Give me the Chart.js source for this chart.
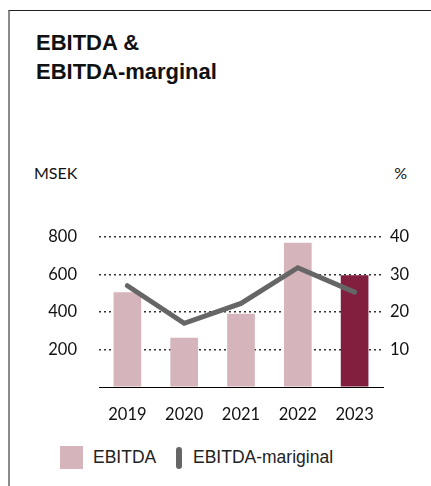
<!DOCTYPE html>
<html>
<head>
<meta charset="utf-8">
<script src="https://cdn.jsdelivr.net/npm/chart.js@4/dist/chart.umd.min.js"></script>
<style>
  html, body { margin: 0; padding: 0; background: #fff; }
  body { width: 431px; height: 486px; position: relative; overflow: hidden; }
  .frame { position: absolute; left: 8px; top: 10px; right: 0; bottom: 0;
    border-left: 2px solid #8a8a8a; border-top: 1px solid #222; }
  .title { position: absolute; left: 36px; top: 28px; font: bold 22px/29px "Liberation Sans", Arial, sans-serif; color: #111; }
  .unit { position: absolute; top: 163px; font: 16px/20px Lato, sans-serif; color: #111; }
  #wrap { position: absolute; left: 0; top: 200px; width: 431px; height: 235px; }
  .legend { position: absolute; top: 446px; left: 0; font: 17.5px/23px "Liberation Sans", Arial, sans-serif; color: #222; }
  .legend i { position: absolute; display: block; }
  .legend span { position: absolute; top: 0; white-space: nowrap; }
</style>
</head>
<body>
<div class="frame"></div>
<div class="title">EBITDA &amp;<br>EBITDA-marginal</div>
<div class="unit" style="left:34px">MSEK</div>
<div class="unit" style="right:24px">%</div>
<div id="wrap"><canvas id="c"></canvas></div>
<div class="legend">
  <i style="left:60px;top:0;width:23px;height:23px;background:#d5b5bb"></i>
  <span style="left:93px">EBITDA</span>
  <i style="left:176px;top:1px;width:6px;height:22px;border-radius:3px;background:#666"></i>
  <span style="left:193px">EBITDA-mariginal</span>
</div>
<script>
// EBITDA (MSEK, bars) and EBITDA margin (%, line)
const years = ["2019", "2020", "2021", "2022", "2023"];
const ebitda = [503, 261, 389, 768, 594];
const margin = [27.0, 17.0, 22.3, 31.8, 25.3];
const leftTicks = [200, 400, 600, 800];
const rightTicks = [10, 20, 30, 40];

const PINK = "#d5b5bb";
const WINE = "#821f3f";
const TICK_FONT = { family: "Lato, sans-serif", size: 16.5 };

new Chart(document.getElementById("c"), {
  data: {
    labels: years,
    datasets: [
      {
        type: "line", label: "EBITDA-mariginal", data: margin, yAxisID: "y1", order: 0,
        borderColor: "#666", borderWidth: 5, borderCapStyle: "round", borderJoinStyle: "miter",
        pointRadius: 0, tension: 0,
      },
      {
        type: "bar", label: "EBITDA", data: ebitda, yAxisID: "y", order: 1,
        backgroundColor: years.map((_, i) => (i === years.length - 1 ? WINE : PINK)),
        barThickness: 27,
      },
    ],
  },
  options: {
    responsive: true,
    maintainAspectRatio: false,
    animation: false,
    layout: { padding: { top: 37, left: 0, right: 0, bottom: 0 } },
    plugins: { legend: { display: false }, tooltip: { enabled: false } },
    scales: {
      x: {
        grid: { display: false },
        border: { display: true, color: "#000", width: 1 },
        ticks: { color: "#111", font: TICK_FONT, padding: 10, maxRotation: 0 },
        afterFit: (s) => { s.height = 48; },
      },
      y: {
        position: "left", min: 0, max: 800,
        afterBuildTicks: (s) => { s.ticks = [0, ...leftTicks].map((v) => ({ value: v })); },
        grid: { drawTicks: false, color: (c) => (c.tick && c.tick.value === 0 ? "rgba(0,0,0,0)" : "#333"), lineWidth: 1.5 },
        border: { display: false, dash: [2, 3] },
        ticks: { color: "#111", font: TICK_FONT, padding: 22, callback: (v) => (v === 0 ? "" : v) },
        afterFit: (s) => { s.width = 99; },
      },
      y1: {
        position: "right", min: 0, max: 40,
        afterBuildTicks: (s) => { s.ticks = [0, ...rightTicks].map((v) => ({ value: v })); },
        grid: { display: false, drawTicks: false },
        border: { display: false },
        ticks: { color: "#111", font: TICK_FONT, padding: 7, callback: (v) => (v === 0 ? "" : v) },
        afterFit: (s) => { s.width = 48; },
      },
    },
  },
});
</script>
</body>
</html>
